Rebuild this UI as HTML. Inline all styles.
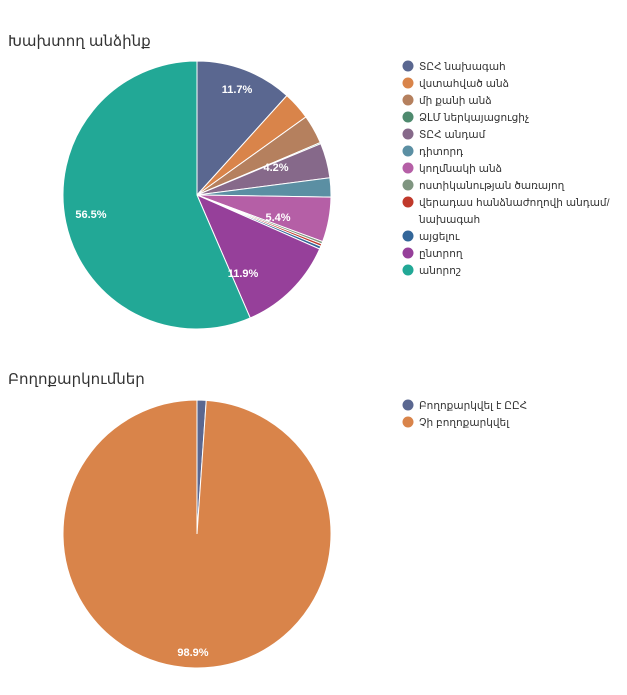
<!DOCTYPE html><html><head><meta charset="utf-8"><style>
body{margin:0;background:#fff;width:627px;height:690px;overflow:hidden;font-family:"Liberation Sans","DejaVu Sans",sans-serif}
</style></head><body>
<svg id="s" width="627" height="690" xmlns="http://www.w3.org/2000/svg" font-family="Liberation Sans, DejaVu Sans, sans-serif">
<text x="8" y="46" font-size="15" fill="#333">Խախտող անձինք</text>
<text x="8" y="384" font-size="15" fill="#333">Բողոքարկումներ</text>
<g id="p1"></g><g id="p2"></g>
<g font-size="11" font-weight="bold" fill="#fff" text-anchor="middle">
<text x="237" y="93">11.7%</text><text x="276" y="171">4.2%</text><text x="278" y="221">5.4%</text>
<text x="243" y="277">11.9%</text><text x="91" y="218">56.5%</text><text x="193" y="656">98.9%</text></g>
<g font-size="10.5" fill="#333" id="lg"></g>
</svg>
<script>
function pie(g,cx,cy,r,data){var a=0,h='';data.forEach(function(d){var b=a+d[0]/100*2*Math.PI;
var x1=cx+r*Math.sin(a),y1=cy-r*Math.cos(a),x2=cx+r*Math.sin(b),y2=cy-r*Math.cos(b);
h+='<path d="M'+cx+','+cy+'L'+x1+','+y1+'A'+r+','+r+' 0 '+((b-a)>Math.PI?1:0)+' 1 '+x2+','+y2+'Z" fill="'+d[1]+'" stroke="#fff" stroke-width="1"/>';a=b;});
document.getElementById(g).innerHTML=h;}
var d1=[[11.7,'#5a6790'],[3.4,'#d9844a'],[3.5,'#b5805e'],[0.15,'#4e8a6e'],[4.2,'#86698a'],[2.3,'#5b8fa3'],[5.4,'#b55fa6'],[0.3,'#7f9580'],[0.3,'#c0392b'],[0.35,'#336699'],[11.9,'#96409a'],[56.5,'#22a896']];
pie('p1',197,195,134,d1);
pie('p2',197,534,134,[[1.1,'#5a6790'],[98.9,'#d9844a']]);
var L=[['ՏԸՀ նախագահ','#5a6790',66],['վստահված անձ','#d9844a',83],['մի քանի անձ','#b5805e',100],['ՁԼՄ ներկայացուցիչ','#4e8a6e',117],['ՏԸՀ անդամ','#86698a',134],['դիտորդ','#5b8fa3',151],['կողմնակի անձ','#b55fa6',168],['ոստիկանության ծառայող','#7f9580',185],['վերադաս հանձնաժողովի անդամ/','#c0392b',202],['այցելու','#336699',236],['ընտրող','#96409a',253],['անորոշ','#22a896',270],['Բողոքարկվել է ԸԸՀ','#5a6790',405],['Չի բողոքարկվել','#d9844a',422]];
var h='';L.forEach(function(l){h+='<circle cx="408" cy="'+l[2]+'" r="5.5" fill="'+l[1]+'"/><text x="419" y="'+(l[2]+4)+'">'+l[0]+'</text>';});
h+='<text x="419" y="223">նախագահ</text>';
document.getElementById('lg').innerHTML=h;
</script>
</body></html>
